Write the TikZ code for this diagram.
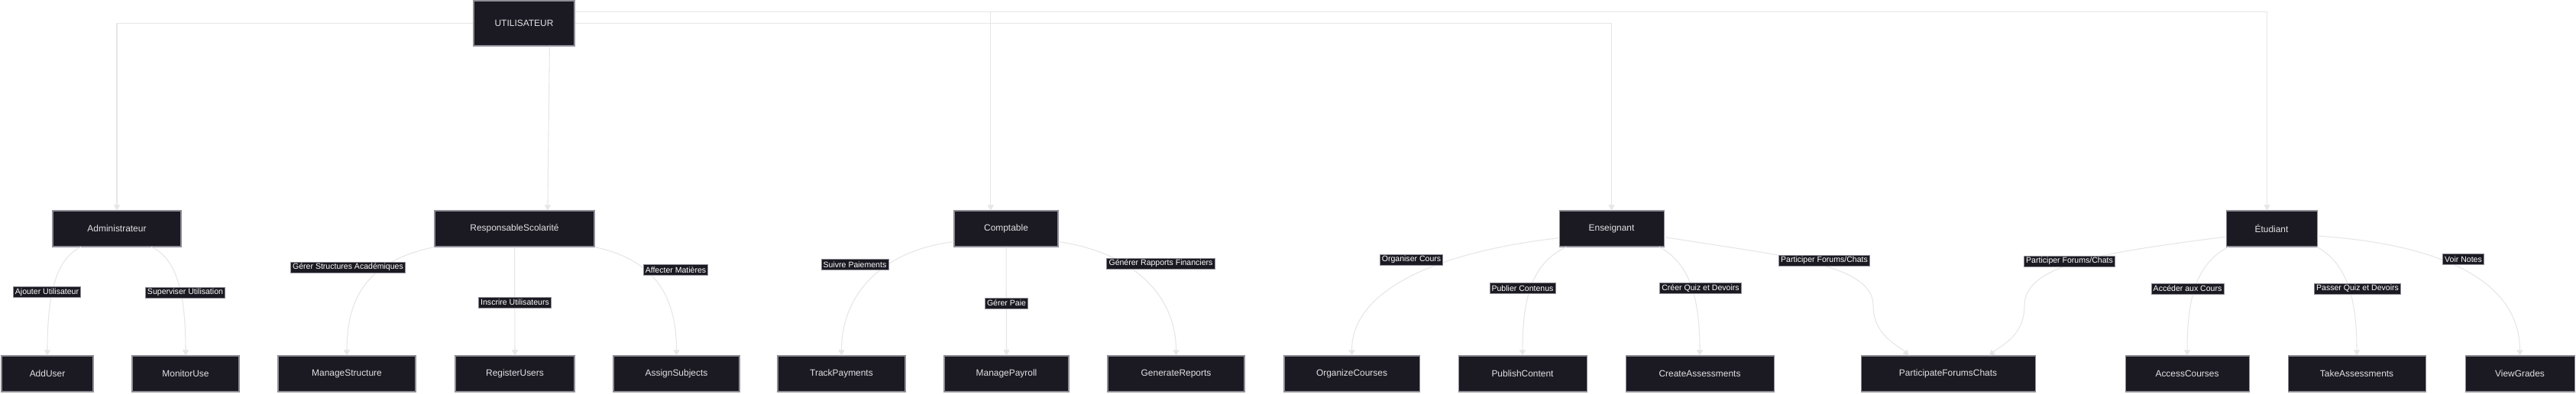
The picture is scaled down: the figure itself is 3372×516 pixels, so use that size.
\documentclass[tikz,border=0pt]{standalone}
\usepackage{fontspec}
\setmainfont{Liberation Sans}
\usetikzlibrary{arrows.meta}
\definecolor{color_node_fill}{HTML}{1B1921}
\definecolor{color_node_line}{HTML}{8E8E98}
\definecolor{color_node_text}{HTML}{E2E2E6}
\definecolor{color_flow}{HTML}{E6E6E6}
\newdimen\pxunit \pxunit=0.02cm
\def\reservedspace{\fill[white] (0,0) rectangle (3372,516);}

\begin{document}
\begin{tikzpicture}[x=0.02cm, y=-0.02cm,
    actor/.style={rectangle, draw=color_node_line, fill=color_node_fill, text=color_node_text,
        line width=0.6pt, inner sep=0pt, minimum width=#1*\pxunit, minimum height=47*\pxunit,
        font=\fontsize{6.8pt}{8pt}\selectfont},
    lbl/.style={rectangle, draw=color_node_line, fill=color_node_fill, text=white,
        line width=0.5pt, inner xsep=1.5pt, inner ysep=0pt, minimum height=14*\pxunit,
        font=\fontsize{6.0pt}{7pt}\selectfont},
    flow/.style={draw=color_flow, line width=0.6pt, -{Triangle[length=4pt,width=4.6pt]}}]
            \reservedspace
            % top
            \node[actor=132, minimum height=59*\pxunit] (util) at (686,30.5) {UTILISATEUR};
            % roles
            \node[actor=168] (adm) at (153,299.5) {Administrateur};
            \node[actor=209] (resp) at (673.5,299.5) {ResponsableScolarité};
            \node[actor=136] (comp) at (1317,299.5) {Comptable};
            \node[actor=137] (ens) at (2109.5,299.5) {Enseignant};
            \node[actor=119] (etu) at (2973.5,299.5) {Étudiant};
            % tasks
            \node[actor=120] (adduser) at (62,489.5) {AddUser};
            \node[actor=140] (monitor) at (243,489.5) {MonitorUse};
            \node[actor=180] (structure) at (454,489.5) {ManageStructure};
            \node[actor=156] (register) at (674,489.5) {RegisterUsers};
            \node[actor=165] (assign) at (885.5,489.5) {AssignSubjects};
            \node[actor=167] (track) at (1101.5,489.5) {TrackPayments};
            \node[actor=163] (payroll) at (1317.5,489.5) {ManagePayroll};
            \node[actor=179] (reports) at (1539.5,489.5) {GenerateReports};
            \node[actor=177] (organize) at (1769.5,489.5) {OrganizeCourses};
            \node[actor=168] (publish) at (1993,489.5) {PublishContent};
            \node[actor=194] (create) at (2225,489.5) {CreateAssessments};
            \node[actor=228] (forums) at (2550,489.5) {ParticipateForumsChats};
            \node[actor=162] (access) at (2863,489.5) {AccessCourses};
            \node[actor=180] (take) at (3085,489.5) {TakeAssessments};
            \node[actor=143] (grades) at (3298.5,489.5) {ViewGrades};
            % links from the top node
            \draw[flow] (util.west) -| (adm.north);
            \draw[flow] (util.-42) -- (resp.29);
            \draw[flow] (util.13) -| (comp.130);
            \draw[flow] (util.east) -| (ens.north);
            \draw[flow] (util.13) -| (etu.104);
            % Administrateur
            \draw[flow] (adm.207) .. controls (70,340) and (62,395) .. (adduser.north);
            \draw[flow] (adm.-28) .. controls (235,340) and (243,395) .. (monitor.north);
            % ResponsableScolarite
            \draw[flow] (resp.south west) .. controls (490,340) and (454,380) .. (structure.north);
            \draw[flow] (resp.south) -- (register.north);
            \draw[flow] (resp.south east) .. controls (855,340) and (885.5,385) .. (assign.north);
            % Comptable
            \draw[flow] (comp.194) .. controls (1155,328) and (1101.5,385) .. (track.north);
            \draw[flow] (comp.south) -- (payroll.north);
            \draw[flow] (comp.-14) .. controls (1480,330) and (1539.5,385) .. (reports.north);
            % Enseignant
            \draw[flow] (ens.190) .. controls (1880,330) and (1769.5,380) .. (organize.north);
            \draw[flow] (ens.202) .. controls (2005,345) and (1993,390) .. (publish.north);
            \draw[flow] (ens.-21) .. controls (2212,345) and (2225,390) .. (create.north);
            \draw[flow] (ens.-9) .. controls (2330,335) and (2452,345) .. (2452,400)
                .. controls (2452,440) and (2485,452) .. (forums.155);
            % Etudiant
            \draw[flow] (etu.190) .. controls (2760,330) and (2650,345) .. (2650,400)
                .. controls (2650,440) and (2620,452) .. (forums.24);
            \draw[flow] (etu.203) .. controls (2875,345) and (2863,390) .. (access.north);
            \draw[flow] (etu.-22) .. controls (3072,345) and (3085,390) .. (take.north);
            \draw[flow] (etu.-9) .. controls (3200,320) and (3298.5,370) .. (grades.north);
            % edge labels
            \node[lbl] (l_ajouter) at (61.5,382.5) {Ajouter Utilisateur};
            \node[lbl] (l_superviser) at (242.5,383) {Superviser Utilisation};
            \node[lbl] (l_structures) at (455.5,350) {Gérer Structures Académiques};
            \node[lbl] (l_inscrire) at (674,396) {Inscrire Utilisateurs};
            \node[lbl] (l_affecter) at (884.5,353.5) {Affecter Matières};
            \node[lbl] (l_suivre) at (1119,346.5) {Suivre Paiements};
            \node[lbl] (l_paie) at (1317.5,397) {Gérer Paie};
            \node[lbl] (l_rapports) at (1519.5,345) {Générer Rapports Financiers};
            \node[lbl] (l_organiser) at (1847.5,340) {Organiser Cours};
            \node[lbl] (l_publier) at (1993,377.5) {Publier Contenus};
            \node[lbl] (l_creer) at (2226,377.5) {Créer Quiz et Devoirs};
            \node[lbl] (l_forums_ens) at (2388,341) {Participer Forums/Chats};
            \node[lbl] (l_forums_etu) at (2709,342) {Participer Forums/Chats};
            \node[lbl] (l_acceder) at (2863.5,378) {Accéder aux Cours};
            \node[lbl] (l_passer) at (3086,378) {Passer Quiz et Devoirs};
            \node[lbl] (l_notes) at (3224.5,339.5) {Voir Notes};
        \end{tikzpicture}
\end{document}
